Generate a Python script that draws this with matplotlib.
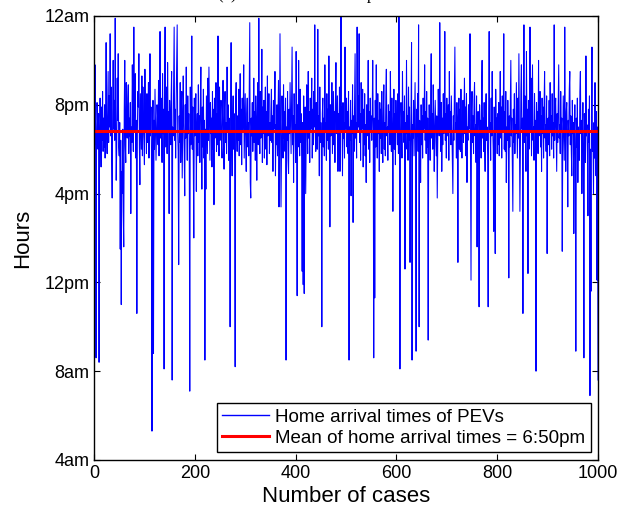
import numpy as np
import matplotlib.pyplot as plt

plt.rcParams['font.family'] = ['Liberation Sans', 'DejaVu Sans']

# home arrival time of each case, in hours
arrival_hours = [
    18.2, 21.8, 19.0, 8.6, 18.5, 20.1, 19.2, 18.0, 19.6, 8.4, 18.8, 20.3, 19.1, 17.2, 19.9, 18.4, 20.6, 17.9, 19.4, 18.1,
    20.0, 17.6, 19.3, 22.8, 18.7, 17.8, 19.8, 21.5, 18.3, 20.4, 19.0, 23.2, 18.6, 20.8, 17.5, 15.8, 19.7, 22.0, 18.9, 20.2,
    18.4, 23.9, 19.5, 16.6, 18.0, 21.2, 19.3, 22.3, 18.1, 17.7,
    19.2, 13.5, 18.4, 11.0, 17.0, 16.0, 18.9, 15.2, 13.6, 19.8, 22.0, 18.2, 17.4, 21.0, 19.1, 18.5, 20.3, 20.9, 17.8, 19.4,
    18.6, 20.1, 15.1, 19.0, 18.3, 21.8, 19.6, 17.9, 23.5, 18.8, 20.4, 21.4, 17.6, 19.3, 10.6, 18.7, 20.6, 19.9, 22.3, 18.1,
    16.4, 20.5, 19.2, 18.0, 21.3, 17.7, 20.8, 19.0, 18.4, 17.3,
    21.6, 18.9, 19.7, 17.8, 20.5, 18.3, 19.4, 21.0, 17.6, 19.1, 22.3, 18.6, 19.9, 17.9, 5.3, 18.4, 20.2, 8.8, 19.3, 18.0,
    20.7, 19.2, 17.5, 18.8, 20.0, 19.5, 18.2, 21.1, 17.7, 19.6, 23.3, 18.5, 20.3, 19.0, 17.4, 21.4, 18.7, 19.8, 8.1, 20.6,
    23.5, 18.1, 19.4, 20.8, 17.8, 21.9, 18.9, 19.7, 15.1, 20.2,
    19.3, 18.2, 20.4, 21.5, 7.6, 19.0, 18.6, 20.9, 23.5, 18.4, 19.8, 17.6, 20.1, 22.0, 23.6, 18.8, 17.9, 12.8, 19.5, 18.3,
    21.0, 17.4, 19.7, 20.6, 16.7, 18.9, 21.3, 19.2, 17.8, 15.9, 20.0, 18.5, 21.7, 19.1, 17.5, 20.4, 18.7, 19.6, 17.9, 7.1,
    20.8, 18.2, 19.4, 23.1, 18.0, 19.9, 17.3, 14.0, 20.3, 18.6,
    19.2, 20.5, 16.1, 18.8, 19.6, 17.7, 20.9, 18.3, 19.5, 17.4, 20.2, 21.7, 18.6, 16.2, 19.9, 18.1, 20.7, 17.6, 19.3, 8.5,
    18.9, 16.2, 20.4, 19.0, 17.8, 21.2, 18.4, 21.7, 19.7, 17.5, 20.1, 18.7, 19.4, 17.2, 20.6, 18.0, 19.8, 15.5, 20.3, 18.5,
    19.1, 21.0, 17.9, 19.6, 18.2, 23.1, 19.0, 17.7, 20.8, 18.4,
    19.5, 20.2, 18.1, 17.6, 19.8, 21.1, 18.5, 17.1, 19.9, 20.6, 18.3, 19.2, 17.8, 21.7, 18.9, 20.0, 17.5, 19.4, 18.6, 10.0,
    19.7, 22.8, 18.2, 16.8, 19.3, 20.4, 18.0, 19.6, 17.4, 8.2, 20.1, 21.0, 18.7, 17.9, 19.5, 18.4, 20.7, 17.7, 19.0, 21.4,
    18.2, 19.8, 17.3, 20.3, 18.8, 19.4, 21.8, 17.6, 19.1, 20.5,
    18.4, 17.0, 19.6, 20.3, 18.1, 19.2, 17.7, 20.8, 23.7, 16.5, 15.8, 19.4, 18.6, 20.1, 17.9, 19.0, 21.2, 18.3, 19.7, 17.5,
    20.4, 18.8, 16.6, 19.5, 21.0, 18.2, 23.9, 19.1, 17.8, 20.6, 18.5, 19.3, 22.5, 17.4, 19.9, 18.7, 20.2, 17.6, 19.4, 20.8,
    18.0, 19.7, 17.3, 21.3, 18.6, 19.0, 20.5, 17.8, 19.2, 18.4,
    19.8, 20.7, 18.3, 19.5, 17.0, 20.2, 18.9, 19.4, 21.5, 16.8, 19.1, 18.2, 20.0, 17.7, 19.6, 21.1, 15.4, 18.6, 23.2, 19.3,
    15.4, 18.0, 20.4, 19.2, 17.6, 20.9, 18.5, 19.7, 17.9, 20.3, 8.5, 19.0, 18.4, 20.6, 17.5, 16.9, 19.8, 18.7, 21.0, 19.3,
    17.8, 20.1, 22.6, 18.2, 19.5, 16.5, 20.5, 18.9, 19.1, 17.4,
    22.4, 18.6, 11.4, 20.0, 18.1, 22.0, 19.4, 17.7, 20.7, 18.3, 19.6, 17.5, 12.5, 19.2, 11.9, 20.4, 11.5, 18.8, 19.9, 16.0,
    18.4, 20.9, 19.1, 17.8, 21.5, 18.5, 19.7, 17.4, 20.3, 18.9, 19.3, 21.2, 17.6, 19.8, 18.2, 20.6, 19.0, 23.6, 18.7, 17.9,
    20.1, 19.4, 18.0, 23.4, 18.6, 19.5, 16.8, 20.8, 18.3, 19.2,
    18.5, 10.0, 19.6, 20.3, 18.1, 19.4, 17.7, 21.8, 18.9, 19.2, 17.5, 20.5, 18.4, 19.8, 18.0, 22.2, 19.1, 14.5, 20.0, 18.6,
    19.5, 21.0, 17.8, 19.3, 20.6, 18.2, 19.7, 17.4, 20.2, 21.9, 18.7, 19.0, 20.4, 17.0, 19.6, 18.3, 20.8, 17.0, 19.4, 24.0,
    18.8, 19.9, 16.8, 20.1, 18.5, 19.2, 17.6, 22.6, 18.9, 19.5,
    20.3, 18.1, 19.7, 17.8, 20.6, 8.5, 19.0, 18.4, 20.2, 15.9, 19.3, 18.7, 20.9, 14.7, 19.5, 17.9, 20.1, 22.3, 18.5, 19.2,
    17.6, 23.5, 18.8, 20.4, 19.0, 23.2, 18.3, 19.6, 17.5, 21.0, 18.9, 19.4, 20.7, 17.2, 19.8, 18.2, 20.5, 17.7, 19.1, 16.5,
    20.0, 18.6, 19.3, 22.0, 18.0, 19.7, 17.4, 20.3, 18.8, 19.5,
    18.4, 19.6, 22.0, 18.9, 8.6, 19.4, 11.3, 20.2, 18.1, 21.8, 19.0, 17.6, 20.5, 18.7, 19.3, 17.0, 20.1, 18.5, 19.8, 17.8,
    20.6, 18.3, 17.4, 19.5, 20.9, 18.0, 19.2, 17.7, 20.4, 21.6, 18.6, 19.0, 17.5, 20.0, 18.8, 19.7, 18.2, 21.5, 19.4, 17.9,
    20.3, 18.5, 15.2, 19.1, 20.7, 18.0, 19.6, 17.3, 20.2, 18.9,
    19.3, 18.2, 20.5, 17.8, 24.0, 19.0, 8.1, 18.6, 20.1, 19.4, 17.6, 21.5, 18.9, 19.7, 18.3, 20.4, 12.6, 19.2, 18.0, 22.0,
    18.7, 19.5, 17.5, 20.8, 18.4, 19.9, 12.9, 18.1, 19.6, 22.8, 8.5, 19.1, 18.5, 20.2, 17.7, 19.4, 21.0, 18.3, 8.9, 19.8,
    18.6, 20.5, 17.9, 23.6, 10.0, 19.3, 18.8, 16.5, 20.0, 18.2,
    19.5, 17.6, 20.3, 18.9, 19.2, 21.8, 18.4, 19.7, 17.8, 20.6, 18.1, 19.4, 9.4, 18.7, 20.0, 19.1, 17.5, 20.4, 22.3, 18.5,
    19.6, 18.0, 20.9, 19.3, 17.0, 18.8, 20.2, 19.0, 17.7, 19.5, 15.8, 18.3, 20.7, 19.2, 18.6, 23.7, 19.8, 17.9, 20.1, 17.0,
    19.4, 18.2, 20.5, 18.7, 19.0, 23.3, 18.4, 19.6, 17.6, 20.3,
    18.6, 19.3, 20.0, 17.5, 21.5, 18.9, 19.7, 18.2, 20.4, 19.0, 17.8, 16.0, 19.5, 18.4, 20.6, 22.6, 18.8, 19.2, 17.6, 20.1,
    18.5, 12.9, 19.4, 20.3, 18.0, 19.8, 17.9, 20.7, 18.6, 17.6, 19.1, 20.2, 18.3, 19.6, 21.2, 18.7, 19.9, 17.7, 20.5, 16.5,
    19.0, 18.4, 20.0, 18.9, 19.3, 23.2, 18.2, 12.1, 19.7, 20.6,
    18.3, 19.5, 17.8, 20.2, 21.0, 18.6, 19.1, 17.4, 20.4, 13.6, 18.9, 19.7, 18.1, 10.9, 20.0, 18.7, 19.3, 17.6, 20.6, 22.0,
    18.5, 19.4, 17.9, 20.1, 18.2, 17.0, 19.8, 20.5, 18.4, 19.0, 17.7, 10.9, 19.6, 23.3, 18.8, 19.2, 17.5, 20.3, 18.6, 21.5,
    19.1, 18.0, 14.3, 19.9, 18.3, 13.3, 20.7, 18.9, 19.4, 17.8,
    19.6, 18.2, 20.1, 17.7, 19.3, 21.5, 18.5, 19.9, 17.6, 20.4, 18.8, 19.2, 23.2, 18.0, 19.7, 17.9, 20.6, 16.5, 19.0, 18.4,
    20.2, 18.9, 12.2, 19.5, 18.1, 20.0, 22.0, 18.6, 19.4, 17.5, 15.2, 19.8, 18.3, 20.5, 17.8, 19.1, 18.7, 21.0, 19.3, 17.6,
    20.3, 18.5, 22.3, 19.0, 15.2, 18.2, 20.7, 21.8, 18.9, 19.4,
    10.6, 19.5, 23.6, 18.3, 20.4, 19.1, 17.0, 22.4, 18.6, 19.8, 12.4, 20.2, 18.0, 19.4, 23.5, 18.8, 21.2, 17.7, 19.6, 21.8,
    18.4, 19.0, 17.5, 20.5, 18.9, 19.3, 8.0, 20.1, 18.2, 19.7, 17.8, 22.0, 18.6, 19.2, 20.6, 18.1, 19.5, 17.0, 20.3, 18.7,
    19.9, 17.6, 20.0, 21.5, 18.5, 19.1, 17.9, 20.4, 13.3, 18.8,
    19.4, 18.2, 20.2, 17.7, 21.0, 18.9, 19.5, 18.0, 20.5, 18.6, 19.2, 17.6, 23.6, 18.4, 19.8, 20.3, 18.7, 17.0, 19.6, 18.3,
    20.0, 21.8, 18.5, 19.1, 17.8, 20.6, 18.9, 19.4, 13.4, 18.1, 20.4, 19.0, 17.5, 23.5, 18.8, 17.0, 19.7, 20.1, 18.4, 15.4,
    19.3, 18.6, 20.7, 21.5, 18.2, 19.5, 17.9, 16.8, 20.2, 18.7,
    19.2, 14.2, 18.5, 20.0, 17.6, 8.9, 19.4, 18.1, 20.3, 16.5, 19.0, 18.4, 17.5, 20.6, 21.5, 18.7, 19.3, 16.0, 18.9, 20.1,
    17.8, 8.6, 19.6, 18.2, 17.4, 22.2, 18.6, 19.1, 17.7, 15.0, 19.8, 18.3, 20.4, 6.9, 18.0, 11.6, 19.5, 22.6, 17.9, 18.8,
    16.0, 19.2, 17.6, 21.0, 18.4, 16.8, 19.7, 12.1, 19.0, 7.6,
]
cases = np.arange(1, len(arrival_hours) + 1)

mean_hours = 18 + 50 / 60   # 6:50pm
hour_ticks = [4, 8, 12, 16, 20, 24]
hour_labels = ['4am', '8am', '12pm', '4pm', '8pm', '12am']
case_ticks = [0, 200, 400, 600, 800, 1000]

fig = plt.figure(figsize=(6.21, 5.09), dpi=100)
ax = fig.add_axes([0.1514, 0.0963, 0.8116, 0.8723])

ax.plot(cases, arrival_hours, color='blue', lw=0.75, label='Home arrival times of PEVs')
ax.axhline(mean_hours, color='red', lw=2.2, label='Mean of home arrival times = 6:50pm')

ax.set_xlim(0, 1000)
ax.set_ylim(4, 24)
ax.set_xticks(case_ticks)
ax.set_yticks(hour_ticks)
ax.set_yticklabels(hour_labels)
ax.tick_params(direction='in', top=True, right=True, labelsize=13, length=4, width=0.8)
for s in ax.spines.values():
    s.set_linewidth(1.0)

ax.set_xlabel('Number of cases', fontsize=16, labelpad=3)
ax.set_ylabel('Hours', fontsize=16, labelpad=8)

leg = ax.legend(loc='lower right', fontsize=13.5, fancybox=False, framealpha=1,
                edgecolor='black', borderaxespad=0.4, handlelength=2.5,
                handletextpad=0.3, borderpad=0.3, labelspacing=0.2)
leg.get_frame().set_linewidth(1.0)
leg.get_lines()[0].set_linewidth(1.0)

# title sits almost entirely above the image edge (cut off in the original)
fig.text(218 / 621, 1 + 0.5 / 509, '(a) Home arrival time profile', fontsize=12,
         family='Liberation Serif', va='baseline', ha='left')

fig.savefig('out.png', dpi=100)
